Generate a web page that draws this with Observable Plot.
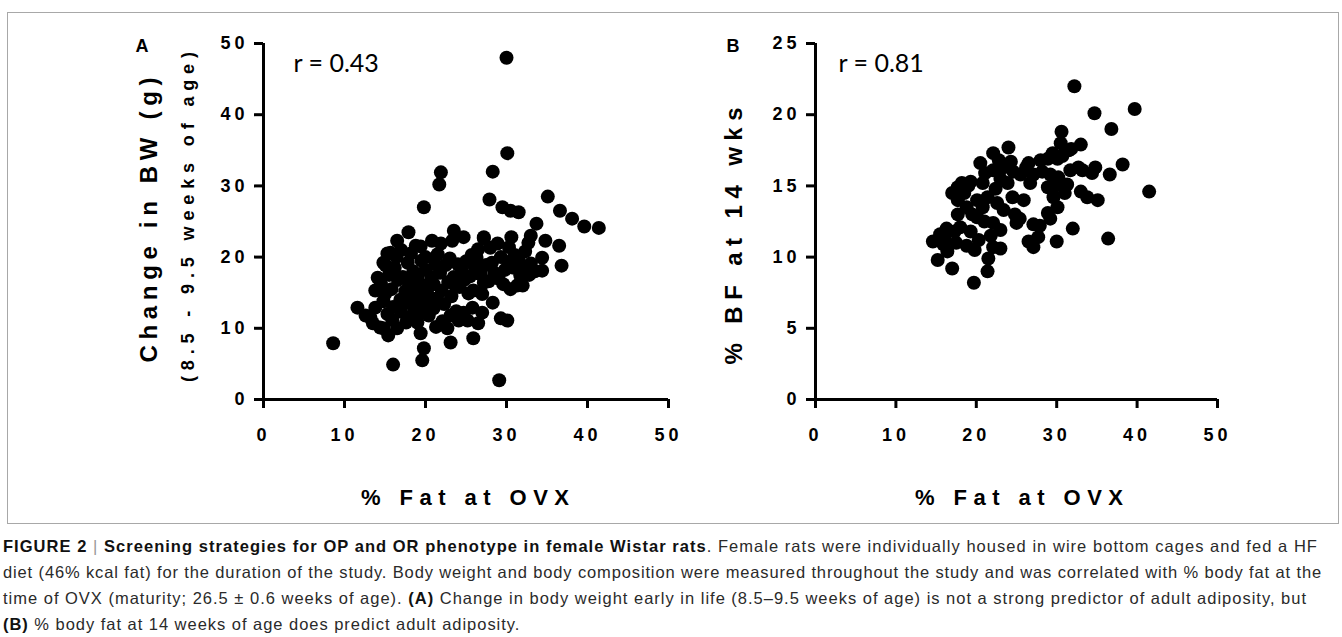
<!DOCTYPE html>
<html>
<head>
<meta charset="utf-8">
<script src="https://cdn.jsdelivr.net/npm/d3@7"></script>
<script src="https://cdn.jsdelivr.net/npm/@observablehq/plot@0.6"></script>
<style>
  html, body { margin: 0; padding: 0; background: #fff; }
  #page { position: relative; width: 1342px; height: 637px; overflow: hidden; font-family: "Liberation Sans", Arial, sans-serif; }
  #frame { position: absolute; left: 7px; top: 12px; width: 1330px; height: 510px; border: 1px solid #a8a8a8; }
  .chart { position: absolute; top: 0; }
  .chart svg { overflow: visible; }
  g[aria-label$="tick label"] text { letter-spacing: 4px; }
  #caption { position: absolute; left: 3px; top: 533px; font-size: 16.5px; line-height: 26px; color: #2a2a2a; white-space: nowrap; }
  #caption .ln { display: inline-block; }
  #caption b { color: #111; }
  #caption .bar { color: #999; font-weight: 300; }
</style>
</head>
<body>
<div id="page">
  <div id="frame"></div>
  <div id="chartA" class="chart" style="left:0px"></div>
  <div id="chartB" class="chart" style="left:690px"></div>
  <div id="caption">
    <div><span class="ln" data-w="1315"><b>FIGURE 2</b> <span class="bar">|</span> <b>Screening strategies for OP and OR phenotype in female Wistar rats</b>. Female rats were individually housed in wire bottom cages and fed a HF</span></div>
    <div><span class="ln" data-w="1319">diet (46% kcal fat) for the duration of the study. Body weight and body composition were measured throughout the study and was correlated with % body fat at the</span></div>
    <div><span class="ln" data-w="1304">time of OVX (maturity; 26.5 ± 0.6 weeks of age). <b>(A)</b> Change in body weight early in life (8.5–9.5 weeks of age) is not a strong predictor of adult adiposity, but</span></div>
    <div><span class="ln">(B) % body fat at 14 weeks of age does predict adult adiposity.</span></div>
  </div>
</div>
<script>
// ---------- Data ----------
// Panel A: % fat at OVX vs change in BW (8.5 - 9.5 weeks of age), g
const fatA = [8.6,16.0,19.6,19.8,29.1,30.0,30.1,28.3,21.9,21.7,19.8,27.9,29.5,30.5,31.5,35.1,36.6,38.1,39.6,41.4,
  33.7,34.8,36.5,36.8,34.4,34.4,33.0,32.7,30.6,30.3,28.9,29.3,27.2,32.0,29.6,30.9,31.7,33.0,27.2,25.9,
  25.3,28.3,29.3,30.1,27.0,25.8,26.5,25.9,23.1,22.7,23.1,24.1,25.2,23.5,24.7,21.9,23.3,17.9,16.5,15.7,
  18.8,15.1,14.1,13.8,11.6,13.8,13.2,14.4,15.4,16.5,19.4,12.6,13.5,14.8,27.2,14.8,15.3,
  14.5,15.0,15.5,14.8,15.8,16.2,16.0,15.3,16.6,16.9,16.4,17.0,15.9,
  17.2,17.5,17.8,17.4,18.0,18.3,17.9,18.5,18.2,17.0,18.6,18.8,17.6,
  19.0,19.2,19.5,19.3,19.8,19.6,20.0,20.2,19.0,20.4,20.0,20.7,20.5,19.4,
  21.0,21.2,21.4,21.0,21.8,22.0,21.5,22.3,22.5,22.1,22.8,21.3,
  23.0,23.2,23.5,23.8,24.2,24.0,24.5,23.6,
  25.0,25.5,26.0,26.3,26.8,27.5,27.8,28.2,28.5,28.0,26.5,25.7,24.8,
  29.8,30.2,31.0,31.5,32.3,32.8,29.0,30.5,31.3,32.3,33.5,24.7,27.0,20.8];
const bwA = [7.9,4.9,5.5,7.2,2.7,48.0,34.6,32.0,31.9,30.2,27.0,28.1,27.0,26.5,26.3,28.5,26.5,25.4,24.3,24.1,
  24.7,22.3,21.6,18.8,18.1,19.9,23.0,22.0,22.8,21.4,21.9,20.0,22.8,16.0,16.2,18.5,17.4,19.1,16.4,15.3,
  14.9,13.6,11.4,11.1,12.2,12.9,10.7,8.6,8.0,10.0,11.8,11.1,11.1,23.7,22.8,21.9,22.3,23.5,22.3,20.6,
  21.6,18.8,17.1,15.3,12.9,12.9,11.5,10.1,9.0,10.0,9.3,11.8,10.7,10.0,22.6,19.2,20.5,
  16.2,14.8,17.5,13.8,15.5,18.5,13.0,12.0,16.8,14.0,20.0,12.3,11.2,
  17.2,15.2,19.2,13.5,16.3,14.2,11.5,18.0,20.5,21.0,12.8,15.5,10.8,
  17.0,14.5,19.5,12.0,16.0,13.3,18.2,15.0,10.8,11.8,20.0,17.2,13.6,21.5,
  16.2,19.0,14.2,12.8,17.8,15.3,20.4,13.4,18.9,11.0,16.5,10.2,
  19.8,14.5,17.2,12.4,15.8,19.0,18.0,16.1,
  19.4,17.3,18.8,19.9,17.6,18.9,16.6,19.2,17.8,21.3,21.1,20.3,16.8,
  18.2,19.3,20.3,19.6,18.5,17.5,17.0,15.5,16.0,20.8,18.0,12.2,14.8,22.3];

// Panel B: % fat at OVX vs % BF at 14 wks
const fatB = [39.7,34.7,36.8,30.6,30.5,31.5,33.0,24.0,22.1,41.5,38.2,36.6,34.8,34.4,32.7,31.7,36.4,32.0,30.0,27.1,
  26.5,27.7,27.1,25.0,23.0,22.1,21.5,21.4,19.7,17.0,15.2,14.6,15.5,16.4,17.7,19.3,17.7,17.7,18.0,19.3,
  20.3,20.1,20.1,21.1,22.1,23.4,24.3,23.9,23.0,21.4,22.6,23.4,22.1,23.0,25.9,26.5,28.0,28.9,30.1,27.1,
  26.7,28.2,28.9,29.6,30.1,28.9,29.2,30.2,31.3,33.0,33.8,35.1,32.2,
  18.5,18.8,19.0,18.2,19.5,20.8,21.0,21.8,22.4,24.5,24.8,19.8,17.3,16.3,17.0,18.8,20.8,22.8,25.5,24.6,
  26.2,29.2,31.0,27.9,29.5,25.4,20.5,17.5,16.1,15.9,31.8,30.7,33.2,29.8];
const bfB = [20.4,20.1,19.0,18.8,18.0,17.5,17.9,17.7,17.3,14.6,16.5,15.8,16.3,15.9,16.3,16.1,11.3,12.0,11.1,10.7,
  11.1,11.4,12.3,12.4,10.6,10.7,9.9,9.0,8.2,9.2,9.8,11.1,11.6,10.4,14.9,15.3,14.0,13.0,12.1,11.8,
  11.2,12.8,14.0,15.9,16.1,16.3,16.7,15.2,15.5,14.2,13.8,13.3,12.4,11.9,14.0,16.6,16.8,16.9,16.9,15.8,
  15.2,16.0,14.9,14.2,13.5,13.1,12.7,15.6,15.1,14.6,14.2,14.0,22.0,
  14.5,13.5,15.0,15.2,13.0,13.5,12.5,11.5,14.8,14.2,13.0,10.5,11.8,12.0,14.5,10.8,15.2,16.8,15.8,16.0,
  16.3,15.8,14.5,12.2,17.3,12.7,16.6,11.0,11.2,10.9,17.6,17.1,16.1,15.0];

const xTicks = [0, 10, 20, 30, 40, 50];
const yTicksA = [0, 10, 20, 30, 40, 50];
const yTicksB = [0, 5, 10, 15, 20, 25];
const xTitle = "% Fat at OVX";

const panels = [
  {id: "chartA", left: 0, letter: "A", r: "r = 0.43", fat: fatA, val: bwA, yMax: 50, yTicks: yTicksA,
   width: 700, marginLeft: 263, marginRight: 32,
   letterDx: -128, rDx: 30, xTitleCenter: 465,
   titles: [
     {text: "Change in BW (g)", size: 24, len: 285, cx: 148, cy: 220},
     {text: "(8.5 - 9.5 weeks of age)", size: 18, len: 330, cx: 188, cy: 217}
   ]},
  {id: "chartB", left: 690, letter: "B", r: "r = 0.81", fat: fatB, val: bfB, yMax: 25, yTicks: yTicksB,
   width: 652, marginLeft: 125, marginRight: 125,
   letterDx: -89, rDx: 23, xTitleCenter: 1019,
   titles: [
     {text: "% BF at 14 wks", size: 24, len: 257, cx: 733, cy: 236}
   ]}
];

const font = "'Liberation Sans', Arial, Helvetica, sans-serif";

function fitText(el, len, cx, cy, vertical) {
  const n = el.textContent.length;
  el.style.letterSpacing = "0px";
  const natural = el.getComputedTextLength();
  const ls = (len - natural) / (n - 1);
  el.style.letterSpacing = ls + "px";
  const r = el.getBoundingClientRect();
  let ddx, ddy;
  if (vertical) {           // reads bottom-to-top; start at bottom
    const vis = r.bottom - len / 2;
    ddx = cx - (r.left + r.width / 2);
    ddy = cy - vis;
  } else {
    const vis = r.left + len / 2;
    ddx = cx - vis;
    ddy = cy - (r.top + r.height / 2);
  }
  const t = el.getAttribute("transform") || "";
  el.setAttribute("transform", `translate(${ddx},${ddy}) ${t}`);
}

for (const p of panels) {
  const data = p.fat.map((f, i) => ({fat: f, v: p.val[i]}));
  const marks = [
    Plot.dot(data, {x: "fat", y: "v", r: 7, fill: "black", stroke: "none"}),
    Plot.ruleX([0], {stroke: "black", strokeWidth: 3}),
    Plot.ruleY([0], {stroke: "black", strokeWidth: 3}),
    Plot.axisX({ticks: xTicks, tickSize: 9, tickPadding: 20, strokeWidth: 3, fontSize: 18, fontWeight: "bold", fill: "black", label: null, tickFormat: d => String(d)}),
    Plot.axisY({ticks: p.yTicks, tickSize: 9, tickPadding: 6, strokeWidth: 3, fontSize: 18, fontWeight: "bold", fill: "black", label: null, tickFormat: d => String(d)}),
    Plot.text([xTitle], {frameAnchor: "bottom", dy: 98, lineAnchor: "middle", textAnchor: "start", fontSize: 22, fontWeight: "bold", fill: "black"}),
    Plot.text([p.letter], {frameAnchor: "top-left", dx: p.letterDx, dy: 8, textAnchor: "start", lineAnchor: "bottom", fontSize: 18, fontWeight: "bold", fill: "black"}),
    Plot.text([p.r], {frameAnchor: "top-left", dx: p.rDx, dy: 28, textAnchor: "start", lineAnchor: "bottom", fontSize: 25, fontFamily: "Lato, 'Open Sans', sans-serif", fill: "black"}),
    ...p.titles.map(t => Plot.text([t.text], {frameAnchor: "left", rotate: -90, textAnchor: "start", lineAnchor: "middle", fontSize: t.size, fontWeight: "bold", fill: "black"}))
  ];
  const chart = Plot.plot({
    width: p.width,
    height: 520,
    marginLeft: p.marginLeft,
    marginRight: p.marginRight,
    marginTop: 43,
    marginBottom: 121,
    style: {fontFamily: font, background: "transparent", overflow: "visible"},
    x: {domain: [0, 50]},
    y: {domain: [0, p.yMax]},
    marks
  });
  document.getElementById(p.id).appendChild(chart);
  // spaced-out axis titles, placed where the original has them
  d3.select(chart).selectAll("text").each(function () {
    const s = this.textContent;
    const t = p.titles.find(d => d.text === s);
    if (t) fitText(this, t.len, t.cx, t.cy, true);
    else if (s === xTitle) fitText(this, 208, p.xTitleCenter, 497, false);
  });
}

// fit caption lines to the widths of the original
const lines = Array.from(document.querySelectorAll("#caption .ln"));
let lsSum = 0, lsN = 0;
for (const el of lines) {
  const target = +el.dataset.w;
  if (!target) continue;
  const w = el.getBoundingClientRect().width;
  const n = el.textContent.length;
  const ls = (target - w) / n;
  el.style.letterSpacing = ls + "px";
  lsSum += ls; lsN++;
}
lines[lines.length - 1].style.letterSpacing = (lsSum / lsN) + "px";
lines[lines.length - 1].innerHTML = "<b>(B)</b> % body fat at 14 weeks of age does predict adult adiposity.";
</script>
</body>
</html>
